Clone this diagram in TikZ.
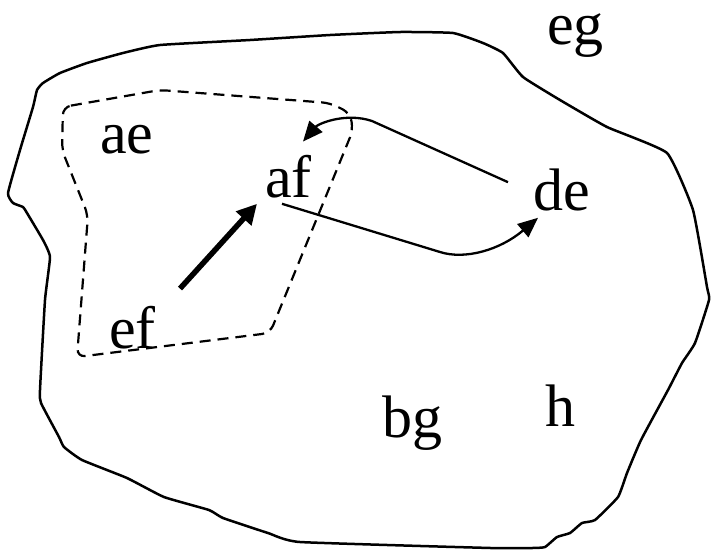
\documentclass[tikz,border=0pt]{standalone}
\usepackage{fontspec}
\setmainfont{Liberation Serif}
\usetikzlibrary{arrows.meta}
\begin{document}
\begin{tikzpicture}[x=1pt,y=-1pt,
  lbl/.style={font=\fontsize{60}{72}\selectfont, inner sep=0pt, anchor=base west},
  outline/.style={line width=2.5pt, line join=round},
  region/.style={line width=2.2pt, dash pattern=on 11pt off 7pt, rounded corners=8pt},
  thin arrow/.style={line width=2.3pt, -{Triangle[length=20pt,width=17pt]}},
  thick arrow/.style={line width=5.5pt, -{Triangle[length=20pt,width=20pt]}}]
\path[use as bounding box] (0,0) rectangle (711,550);
% outer boundary
\draw[outline] plot[smooth cycle, tension=0.25] coordinates {
 (43,83) (60,73) (87,63) (123,53) (160,45) (250,40) (330,35) (400,32) (453,33)
 (483,43) (503,53) (523,77) (560,100) (607,127) (667,153) (693,210) (707,287)
 (709,300) (695,343) (682,363) (668,390) (641,440) (627,473) (618,497) (595,520)
 (582,523) (570,533) (557,537) (545,547) (532,548) (491,548) (300,542) (268,533)
 (223,518) (209,510) (164,497) (127,478) (82,460) (64,447) (59,437) (41,403)
 (40,390) (45,300) (50,257) (43,240) (27,213) (23,207) (13,203) (8,193) (20,150)
 (33,107) (37,90)};
% dashed region
\draw[region] (63,107) -- (160,90) -- (330,103) -- (350,113) -- (353,130) -- (270,333)
  -- (77,357) -- (88,215) -- (62,150) -- cycle;
% labels
\node[lbl] (eg) at (547,44) {eg};
\node[lbl] (ae) at (100,153) {ae};
\node[lbl] (af) at (265,197) {af};
\node[lbl] (de) at (533,210) {de};
\node[lbl] (ef) at (109,348) {ef};
\node[lbl] (bg) at (382,437) {bg};
\node[lbl] (h) at (545,426) {h};
% connectors
\draw[thick arrow] ([shift={(24,-17)}]ef.north east) -- ([shift={(-8,6)}]af.south west);
\draw[thin arrow] ([shift={(17,6)}]af.south west) -- (440,252)
  .. controls (465,260) and (500,250) .. ([shift={(5,7)}]de.south west);
\draw[thin arrow] ([shift={(-25,14)}]de.north west) -- (372,121)
  .. controls (345,112) and (318,124) .. ([shift={(-9,-13)}]af.north east);
\end{tikzpicture}
\end{document}
